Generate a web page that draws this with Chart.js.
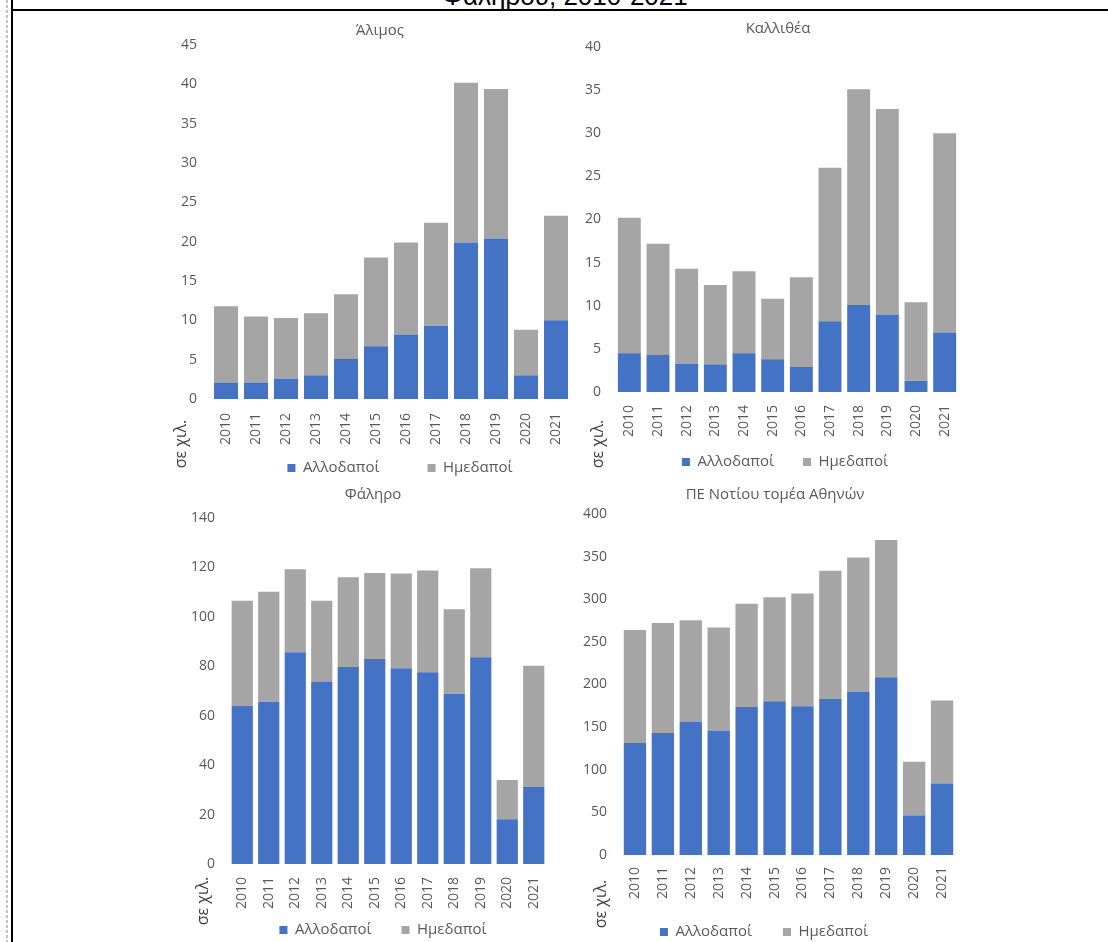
<!DOCTYPE html>
<html>
<head>
<meta charset="utf-8">
<script src="https://cdn.jsdelivr.net/npm/chart.js@4.4.1/dist/chart.umd.min.js"></script>
<style>
  html, body { margin: 0; padding: 0; background: #fff; overflow: hidden; }
  #selida { position: relative; width: 1108px; height: 942px; overflow: hidden; background: #fff; }
  .diakekommeni { position: absolute; left: 6px; top: 0; width: 2px; height: 942px;
    background: repeating-linear-gradient(to bottom, #c3c3c3 0 3px, transparent 3px 5px); }
  .katheti { position: absolute; left: 11px; top: 0; width: 2px; height: 942px; background: #000; }
  .orizontia { position: absolute; left: 11px; top: 9px; right: 0; height: 2px; background: #000; }
  .kyrios-titlos { position: absolute; left: 565px; top: -17px; transform: translateX(-50%);
    font: 26px "Liberation Sans", Arial, sans-serif; line-height: 26px; white-space: nowrap; color: #000; }
  canvas { position: absolute; }
</style>
</head>
<body>
<div id="selida">
  <div class="kyrios-titlos">Φαλήρου, 2010-2021</div>
  <div class="diakekommeni"></div>
  <div class="katheti"></div>
  <div class="orizontia"></div>
</div>
<script>
// Έτη (κατηγορίες του άξονα x)
const eti = ["2010", "2011", "2012", "2013", "2014", "2015", "2016", "2017", "2018", "2019", "2020", "2021"];

// Τιμές σε χιλ. (διαβασμένες από το γράφημα)
const alimosAllodapoi = [2.1, 2.1, 2.6, 3.0, 5.1, 6.7, 8.2, 9.3, 19.9, 20.4, 3.0, 10.0];
const alimosImedapoi = [9.7, 8.4, 7.7, 7.9, 8.2, 11.3, 11.7, 13.1, 20.3, 19.0, 5.8, 13.3];

const kallitheaAllodapoi = [4.5, 4.3, 3.3, 3.2, 4.5, 3.8, 2.9, 8.2, 10.1, 9.0, 1.3, 6.9];
const kallitheaImedapoi = [15.7, 12.9, 11.0, 9.2, 9.5, 7.0, 10.4, 17.8, 25.0, 23.8, 9.1, 23.1];

const faliroAllodapoi = [64.0, 65.6, 85.7, 73.6, 79.7, 82.9, 79.2, 77.6, 68.9, 83.7, 18.1, 31.3];
const faliroImedapoi = [42.5, 44.6, 33.6, 32.9, 36.3, 34.8, 38.3, 41.2, 34.2, 36.0, 15.9, 48.9];

const notiosAllodapoi = [131.5, 143.2, 156.1, 146.0, 173.7, 180.3, 174.4, 183.0, 191.2, 208.4, 46.4, 83.9];
const notiosImedapoi = [132.3, 128.8, 119.4, 120.9, 120.9, 122.1, 132.3, 150.3, 157.7, 161.2, 62.9, 97.2];

const seires = ["Αλλοδαποί", "Ημεδαποί"];
const titloi = ["Άλιμος", "Καλλιθέα", "Φάληρο", "ΠΕ Νοτίου τομέα Αθηνών"];
const yMegisto = [45, 40, 140, 400];
const yVima = [5, 5, 20, 50];
const monada = "σε χιλ.";

// Θέσεις των τεσσάρων γραφημάτων στη σελίδα
const diataxi = [
  { plot: [211, 45, 571, 399], titlos: [380, 31], ypomnima: [400, 468], legGap: 48, unit: [-30, 45], xPad: 14 },
  { plot: [615, 47, 959, 392], titlos: [778, 29], ypomnima: [785, 462], legGap: 29, unit: [-17, 52], xPad: 13 },
  { plot: [229, 518, 547, 864], titlos: [373, 495], ypomnima: [383, 930], legGap: 30, unit: [-26, 37], xPad: 13 },
  { plot: [621, 514, 956, 855], titlos: [775, 495], ypomnima: [764, 932], legGap: 31, unit: [-20, 49], xPad: 12 },
];

const GRAMMATOSEIRA = '"Open Sans", "DejaVu Sans", sans-serif';
const Y_PLATOS = 45;
const PERIGRAMMA_ARISTERA = 10;
const PERIGRAMMA_DEXIA = 60;
const TITLOS_MEGETHOS = 15;
const LEG_FONT = 15;
const TICK_FONT = 14;

// τίτλος μονάδας, γυρισμένος κάθετα κάτω αριστερά
const monadaPlugin = {
  id: "monada",
  afterDraw(chart, args, opts) {
    const { ctx, chartArea } = chart;
    ctx.save();
    ctx.translate(chartArea.left + opts.dx, chartArea.bottom + opts.dy);
    ctx.rotate(-Math.PI / 2);
    ctx.font = "16px " + GRAMMATOSEIRA;
    ctx.fillStyle = "#404040";
    ctx.textAlign = "center";
    ctx.textBaseline = "middle";
    ctx.fillText(monada, 0, 0);
    ctx.restore();
  },
};

// μετακινεί τίτλο και υπόμνημα στη θέση τους (συντεταγμένες σελίδας)
const metakinisiPlugin = {
  id: "metakinisi",
  afterLayout(chart, args, opts) {
    const t = chart.titleBlock;
    if (t) {
      const dx = opts.titlos[0] - opts.x0 - (t.left + t.right) / 2;
      t.left += dx; t.right += dx;
    }
    const l = chart.legend;
    if (l) {
      const dx = opts.ypomnima[0] - opts.x0 - (l.left + l.right) / 2;
      const dy = opts.ypomnima[1] - opts.y0 - opts.legGap - LEG_FONT / 2 - l.top;
      l.left += dx; l.right += dx;
      l.top += dy; l.bottom += dy;
    }
  },
};

function ftiaxeGrafima(i, allodapoi, imedapoi) {
  const d = diataxi[i];
  const [pl, pt, pr, pb] = d.plot;
  const xYpsos = d.xPad + 34;
  const legYpsos = LEG_FONT + d.legGap + 10;
  const top = Math.round(d.titlos[1] - TITLOS_MEGETHOS * 0.6);
  const titlePadBottom = pt - top - TITLOS_MEGETHOS * 1.2;
  const left = pl - Y_PLATOS - PERIGRAMMA_ARISTERA;
  const right = pr + PERIGRAMMA_DEXIA;
  const bottom = pb + xYpsos + legYpsos;

  const canvas = document.createElement("canvas");
  canvas.width = right - left;
  canvas.height = bottom - top;
  canvas.style.left = left + "px";
  canvas.style.top = top + "px";
  document.getElementById("selida").appendChild(canvas);

  new Chart(canvas.getContext("2d"), {
    type: "bar",
    data: {
      labels: eti,
      datasets: [
        { label: seires[0], data: allodapoi, backgroundColor: "#4472C4" },
        { label: seires[1], data: imedapoi, backgroundColor: "#A5A5A5" },
      ],
    },
    options: {
      responsive: false,
      animation: false,
      layout: { padding: { left: PERIGRAMMA_ARISTERA, right: PERIGRAMMA_DEXIA, top: 0, bottom: 0 } },
      datasets: { bar: { categoryPercentage: 1, barPercentage: 0.8 } },
      scales: {
        x: {
          stacked: true,
          grid: { display: false, drawTicks: false },
          border: { display: false },
          ticks: {
            autoSkip: false, minRotation: 90, maxRotation: 90, padding: d.xPad,
            color: "#595959", font: { size: TICK_FONT, family: GRAMMATOSEIRA },
          },
          afterFit: (s) => { s.height = xYpsos; },
        },
        y: {
          stacked: true,
          min: 0,
          max: yMegisto[i],
          grid: { display: false, drawTicks: false },
          border: { display: false },
          ticks: {
            stepSize: yVima[i], padding: 14,
            color: "#595959", font: { size: TICK_FONT, family: GRAMMATOSEIRA },
          },
          afterFit: (s) => { s.width = Y_PLATOS; },
        },
      },
      plugins: {
        title: {
          display: true,
          text: titloi[i],
          color: "#595959",
          font: { size: TITLOS_MEGETHOS, family: GRAMMATOSEIRA, weight: "normal" },
          padding: { top: 0, bottom: titlePadBottom },
        },
        legend: {
          position: "bottom",
          labels: {
            boxWidth: 8, boxHeight: 8, padding: d.legGap,
            color: "#595959", font: { size: LEG_FONT, family: GRAMMATOSEIRA },
          },
        },
        tooltip: { enabled: false },
        monada: { dx: d.unit[0], dy: d.unit[1] },
        metakinisi: { titlos: d.titlos, ypomnima: d.ypomnima, legGap: d.legGap, x0: left, y0: top },
      },
    },
    plugins: [monadaPlugin, metakinisiPlugin],
  });
}

document.addEventListener("DOMContentLoaded", () => {
  ftiaxeGrafima(0, alimosAllodapoi, alimosImedapoi);
  ftiaxeGrafima(1, kallitheaAllodapoi, kallitheaImedapoi);
  ftiaxeGrafima(2, faliroAllodapoi, faliroImedapoi);
  ftiaxeGrafima(3, notiosAllodapoi, notiosImedapoi);
});
</script>
</body>
</html>
